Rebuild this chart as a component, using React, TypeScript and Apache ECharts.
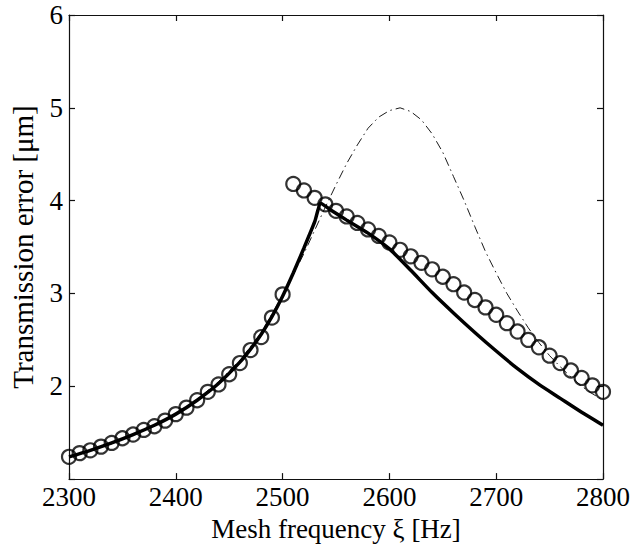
import React, { useEffect, useRef } from "react";
import * as echarts from "echarts";

// Thick solid line (model, sweep)
const solidX = [2300, 2320, 2340, 2360, 2380, 2400, 2420, 2440, 2460, 2470, 2480, 2490, 2500, 2510, 2520, 2530, 2536, 2545, 2560, 2580, 2600, 2620, 2640, 2660, 2680, 2700, 2720, 2740, 2760, 2780, 2800];
const solidY = [1.24, 1.31, 1.39, 1.48, 1.58, 1.70, 1.85, 2.03, 2.26, 2.40, 2.56, 2.75, 2.97, 3.22, 3.49, 3.77, 3.97, 3.90, 3.79, 3.65, 3.48, 3.25, 3.01, 2.79, 2.58, 2.38, 2.19, 2.02, 1.87, 1.72, 1.58];

// Thin dash-dot line (linear response)
const dashX = [2300, 2340, 2380, 2400, 2420, 2440, 2460, 2480, 2500, 2510, 2520, 2530, 2540, 2550, 2560, 2570, 2580, 2590, 2600, 2610, 2620, 2630, 2640, 2650, 2660, 2670, 2680, 2690, 2700, 2710, 2720, 2730, 2740, 2750, 2760, 2770, 2780, 2790, 2800];
const dashY = [1.24, 1.38, 1.57, 1.70, 1.86, 2.05, 2.28, 2.58, 2.98, 3.20, 3.43, 3.68, 3.93, 4.17, 4.40, 4.60, 4.78, 4.90, 4.97, 5.00, 4.96, 4.87, 4.72, 4.52, 4.26, 4.00, 3.72, 3.45, 3.22, 3.00, 2.81, 2.63, 2.47, 2.33, 2.21, 2.10, 2.00, 1.92, 1.85];

// Circles (simulation points)
const circleX = [2300, 2310, 2320, 2330, 2340, 2350, 2360, 2370, 2380, 2390, 2400, 2410, 2420, 2430, 2440, 2450, 2460, 2470, 2480, 2490, 2500,
  2510, 2520, 2530, 2540, 2550, 2560, 2570, 2580, 2590, 2600, 2610, 2620, 2630, 2640, 2650, 2660, 2670, 2680, 2690, 2700, 2710, 2720, 2730, 2740, 2750, 2760, 2770, 2780, 2790, 2800];
const circleY = [1.24, 1.28, 1.31, 1.35, 1.39, 1.44, 1.48, 1.53, 1.57, 1.63, 1.70, 1.77, 1.85, 1.94, 2.02, 2.13, 2.25, 2.39, 2.53, 2.74, 2.99,
  4.18, 4.11, 4.03, 3.96, 3.89, 3.83, 3.76, 3.69, 3.62, 3.55, 3.47, 3.40, 3.33, 3.26, 3.18, 3.10, 3.01, 2.93, 2.85, 2.77, 2.68, 2.59, 2.50, 2.42, 2.33, 2.25, 2.17, 2.09, 2.01, 1.94];

const xTicks = [2300, 2400, 2500, 2600, 2700, 2800];
const yTicks = [2, 3, 4, 5, 6];

const FONT = "'Liberation Serif', 'DejaVu Serif', serif";

export default function App() {
  const ref = useRef<HTMLDivElement>(null);
  useEffect(() => {
    document.body.style.margin = "0";
    if (!ref.current) return;
    const chart = echarts.init(ref.current, null, { renderer: "svg" });
    const zip = (xs: number[], ys: number[]) => xs.map((x, i) => [x, ys[i]]);
    const axisLine = { show: true, onZero: false, lineStyle: { color: "#111", width: 1.2 } };
    const tick = { show: true, inside: true, length: 6, lineStyle: { color: "#111", width: 1.2 } };
    chart.setOption({
      animation: false,
      backgroundColor: "#fff",
      grid: { left: 68, top: 15, right: 30, bottom: 67, containLabel: false },
      xAxis: [
        {
          type: "value", min: xTicks[0], max: xTicks[xTicks.length - 1], interval: 100,
          position: "bottom",
          axisLine, axisTick: tick, splitLine: { show: false },
          axisLabel: { color: "#000", fontFamily: FONT, fontSize: 27, margin: 4, formatter: (v: number) => String(v) },
          name: "Mesh frequency ξ [Hz]", nameLocation: "middle", nameGap: 31,
          nameTextStyle: { color: "#000", fontFamily: FONT, fontSize: 27 },
        },
        {
          type: "value", min: xTicks[0], max: xTicks[xTicks.length - 1], interval: 100,
          position: "top",
          axisLine, axisTick: tick, splitLine: { show: false },
          axisLabel: { show: false },
        },
      ],
      yAxis: [
        {
          type: "value", min: 1, max: yTicks[yTicks.length - 1], interval: 1,
          position: "left",
          axisLine, axisTick: tick, splitLine: { show: false },
          axisLabel: {
            color: "#000", fontFamily: FONT, fontSize: 27, margin: 6,
            formatter: (v: number) => (yTicks.includes(v) ? String(v) : ""),
          },
          name: "Transmission error [μm]", nameLocation: "middle", nameGap: 32,
          nameTextStyle: { color: "#000", fontFamily: FONT, fontSize: 29 },
        },
        {
          type: "value", min: 1, max: yTicks[yTicks.length - 1], interval: 1,
          position: "right",
          axisLine, axisTick: tick, splitLine: { show: false },
          axisLabel: { show: false },
        },
      ],
      series: [
        {
          type: "line", data: zip(dashX, dashY), showSymbol: false, symbol: "none",
          lineStyle: { color: "#000", width: 0.9, type: [9, 4, 1.5, 4] },
          z: 2,
        },
        {
          type: "line", data: zip(solidX, solidY), showSymbol: false, symbol: "none",
          smooth: 0.2,
          lineStyle: { color: "#000", width: 3.5 },
          z: 3,
        },
        {
          type: "scatter", data: zip(circleX, circleY), symbol: "circle", symbolSize: 14,
          itemStyle: { color: "transparent", borderColor: "#000", borderWidth: 2.2 },
          z: 4,
        },
      ],
    });
    return () => chart.dispose();
  }, []);
  return <div ref={ref} style={{ width: 633, height: 547 }} />;
}
